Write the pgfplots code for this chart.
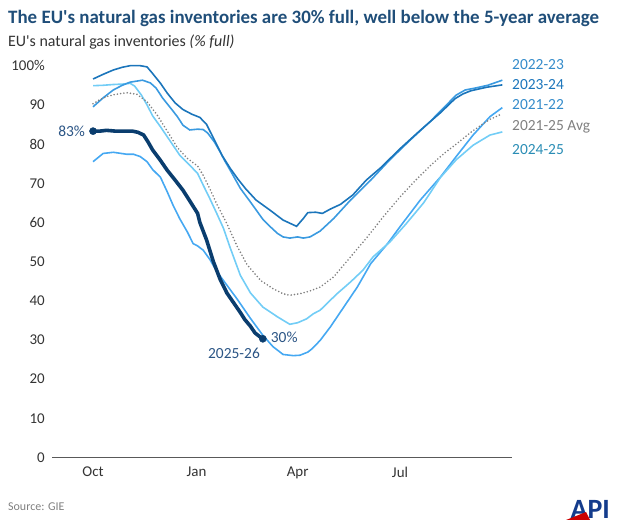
\documentclass[border=0pt]{standalone}
\usepackage{fontspec}
\setmainfont{Carlito}[Ligatures=TeXOff]
\usepackage{pgfplots}
\pgfplotsset{compat=1.18}
\definecolor{c2324}{HTML}{1B75BB}
\definecolor{c2223}{HTML}{3A9AE0}
\definecolor{c2122}{HTML}{45A8F2}
\definecolor{c2425}{HTML}{72CDF6}
\definecolor{cnavy}{HTML}{0A3D6E}
\definecolor{cavg}{HTML}{808080}
\definecolor{ctitle}{HTML}{1F4E79}
\definecolor{clab}{HTML}{2B5585}
\definecolor{ctick}{HTML}{333333}
\begin{document}
\begin{tikzpicture}
\useasboundingbox (0,0) rectangle (622bp,524bp);
\begin{axis}[
  at={(52bp,66.5bp)}, anchor=south west,
  scale only axis, width=460bp, height=391.8bp,
  xmin=-36.5, xmax=372.6, ymin=0, ymax=100,
  clip=false,
  axis x line=bottom, axis y line=left,
  y axis line style={draw=none},
  x axis line style={draw=black!65, line width=1.3bp, -},
  major tick length=0pt,
  xtick={0,92,182,273}, xticklabels={Oct,Jan,Apr,Jul},
  ytick={0,10,20,30,40,50,60,70,80,90,100},
  yticklabels={0,10,20,30,40,50,60,70,80,90,100\%},
  /pgf/number format/assume math mode=true,
  yticklabel style={font=\fontsize{15}{18}\selectfont, color=ctick, inner sep=0pt, anchor=east, xshift=-7bp},
  xticklabel style={font=\fontsize{15}{18}\selectfont, color=ctick, inner sep=0pt, anchor=north, yshift=-9bp},
]
% 2021-22
\addplot[c2122, line width=1.6bp] coordinates {
(0,75.5)(9,77.6)(18,77.9)(30,77.4)(36,77.4)(42,76.8)(48,75.5)(53,73.5)(60,71.5)(66,67.8)(71,64.5)(77,61.0)(84,57.5)(89,54.6)(93,54.0)(98,52.9)(104,50.5)(110,47.5)(119,44.0)(128,40.5)(140,35.5)(151,31.2)(160,28.3)(169,26.3)(178,26.0)(184,26.1)(191,26.9)(195,27.8)(202,29.9)(211,33.3)(223,38.4)(235,43.5)(247,49.5)(262,54.6)(273,58.9)(291,65.7)(309,71.6)(324,77.2)(338,82.3)(353,87.0)(364,89.3)};
% 2024-25
\addplot[c2425, line width=1.6bp] coordinates {
(0,94.9)(9,95.0)(18,95.2)(26,95.3)(33,95.5)(37,94.8)(43,92.5)(48,90.0)(53,87.2)(60,84.4)(69,80.6)(77,77.2)(86,74.6)(93,72.5)(98,69.5)(104,66.0)(110,62.3)(116,58.5)(122,53.5)(131,46.5)(140,42.0)(151,38.4)(164,35.9)(175,34.0)(182,34.4)(190,35.4)(196,36.7)(202,37.6)(208,39.3)(217,41.8)(229,44.8)(240,47.8)(249,51.2)(264,55.0)(278,59.5)(294,65.0)(309,71.5)(323,76.0)(338,79.7)(353,82.3)(364,83.1)};
% 2022-23
\addplot[c2223, line width=1.6bp] coordinates {
(0,89.5)(9,91.8)(18,93.8)(26,95.0)(33,95.8)(44,96.3)(51,95.6)(56,94.3)(62,91.7)(69,89.2)(75,87.0)(80,84.8)(86,83.6)(93,83.8)(98,83.7)(102,82.8)(108,80.5)(113,78.0)(117,75.8)(122,73.3)(131,68.7)(140,65.2)(146,62.8)(151,60.8)(158,58.8)(164,57.2)(169,56.3)(175,56.0)(182,56.3)(187,56.0)(193,56.3)(202,57.8)(214,61.0)(229,65.7)(247,70.8)(264,76.0)(282,81.0)(300,85.8)(313,89.6)(323,92.5)(331,93.8)(340,94.3)(351,95.0)(364,96.3)};
% 2023-24
\addplot[c2324, line width=1.6bp] coordinates {
(0,96.6)(9,97.8)(18,98.9)(26,99.6)(33,100.0)(42,100.0)(48,99.7)(53,98.0)(60,95.5)(66,93.0)(73,90.5)(80,88.8)(88,87.6)(95,86.8)(101,85.0)(108,81.0)(115,77.0)(122,73.8)(129,71.0)(136,68.5)(145,65.7)(158,63.0)(169,60.6)(175,59.8)(181,59.0)(187,61.0)(191,62.5)(198,62.6)(204,62.3)(211,63.4)(220,64.6)(231,67.0)(243,70.8)(256,74.0)(273,78.8)(291,83.5)(309,88.0)(322,91.6)(329,92.8)(336,93.6)(350,94.5)(364,95.1)};
% 2021-25 average
\addplot[cavg, line width=1.8bp, line cap=round, dash pattern=on 0pt off 3.3bp] coordinates {
(0,90.3)(6,91.3)(12,92.1)(20,92.7)(30,93.1)(39,92.7)(48,90.8)(57,87.4)(66,83.3)(75,79.1)(84,76.3)(93,74.4)(98,72.0)(104,68.5)(110,64.7)(119,59.7)(128,54.0)(137,49.2)(149,45.2)(160,43.1)(169,41.8)(175,41.4)(184,41.8)(193,42.5)(202,43.5)(214,46.1)(229,51.2)(244,56.3)(258,61.4)(273,66.5)(287,70.8)(300,74.5)(313,77.8)(324,80.2)(336,83.0)(345,84.8)(353,86.3)(362,87.5)};
% 2025-26
\addplot[cnavy, line width=3.6bp, line join=round] coordinates {
(0,83.3)(6,83.3)(12,83.5)(20,83.3)(28,83.3)(35,83.3)(40,83.0)(45,82.3)(49,80.5)(53,78.5)(60,75.8)(66,73.3)(73,70.8)(80,68.2)(86,65.5)(93,62.3)(95,60.0)(101,55.5)(107,50.0)(113,45.5)(119,42.0)(125,39.5)(131,37.0)(135,35.2)(140,33.5)(144,31.8)(148,30.9)(151,30.3)};
\addplot[only marks, mark=*, mark size=3.6bp, color=cnavy] coordinates {(0,83.3)(151,30.3)};
% labels
\node[anchor=east, text=clab, font=\fontsize{15.5}{18}\selectfont, inner sep=0pt] at (axis cs:-7,83.3) {83\%};
\node[anchor=west, text=clab, font=\fontsize{15.5}{18}\selectfont, inner sep=0pt] at (axis cs:158,30.7) {30\%};
\node[anchor=east, text=clab, font=\fontsize{15.5}{18}\selectfont, inner sep=0pt] at (axis cs:148.5,26.6) {2025-26};
\node[anchor=west, text=c2223!90!black, font=\fontsize{15.5}{18}\selectfont, inner sep=0pt] at (axis cs:372.6,100.4) {2022-23};
\node[anchor=west, text=c2324, font=\fontsize{15.5}{18}\selectfont, inner sep=0pt] at (axis cs:372.6,95.2) {2023-24};
\node[anchor=west, text=c2223!90!black, font=\fontsize{15.5}{18}\selectfont, inner sep=0pt] at (axis cs:372.6,90.0) {2021-22};
\node[anchor=west, text=cavg, font=\fontsize{15.5}{18}\selectfont, inner sep=0pt] at (axis cs:372.6,84.4) {2021-25 Avg};
\node[anchor=west, text={rgb,255:red,42;green,141;blue,181}, font=\fontsize{15.5}{18}\selectfont, inner sep=0pt] at (axis cs:372.6,78.7) {2024-25};
\end{axis}
\node[anchor=base west, inner sep=0pt, text=ctitle, font=\fontsize{19}{23}\selectfont\bfseries] at (8bp,500.5bp) {The EU's natural gas inventories are 30\% full, well below the 5-year average};
\node[anchor=base west, inner sep=0pt, text=ctick, font=\fontsize{16}{19}\selectfont] at (8bp,477bp) {EU's natural gas inventories \textit{(\% full)}};
\node[anchor=base west, inner sep=0pt, text=black!50, font=\fontsize{12}{14}\selectfont] at (8bp,14bp) {Source: GIE};
\node[anchor=base east, inner sep=0pt, text={rgb,255:red,20;green,60;blue,140}, font=\fontsize{28}{30}\selectfont\bfseries] at (610bp,6bp) {API};
\fill[red!80!black] (566bp,4bp) -- (586bp,12bp) -- (590bp,4bp) -- cycle;
\end{tikzpicture}
\end{document}
